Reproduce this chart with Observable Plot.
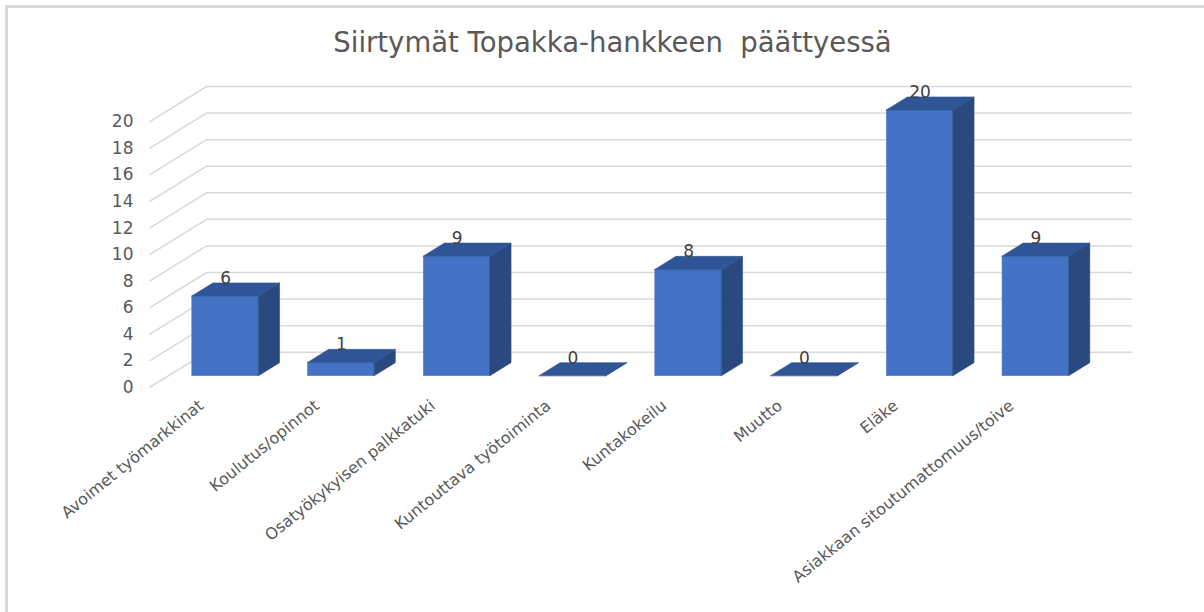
<!DOCTYPE html>
<html>
<head>
<meta charset="utf-8">
<script src="https://cdn.jsdelivr.net/npm/d3@7"></script>
<script src="https://cdn.jsdelivr.net/npm/@observablehq/plot@0.6"></script>
<style>
  html, body { margin: 0; padding: 0; background: #fff; }
  #wrap { position: relative; width: 1204px; height: 612px; overflow: hidden; }
  #frame { position: absolute; left: 5px; top: 5px; right: -10px; bottom: -10px;
           border-left: 3px solid #d9d9d9; border-top: 3px solid #d9d9d9; pointer-events: none; }
  svg { display: block; }
</style>
</head>
<body>
<div id="wrap"><div id="frame"></div></div>
<script>
const title = "Siirtymät Topakka-hankkeen  päättyessä";
const categories = [
  "Avoimet työmarkkinat",
  "Koulutus/opinnot",
  "Osatyökykyisen palkkatuki",
  "Kuntouttava työtoiminta",
  "Kuntakokeilu",
  "Muutto",
  "Eläke",
  "Asiakkaan sitoutumattomuus/toive"
];
const values = [6, 1, 9, 0, 8, 0, 20, 9];
const yTicks = [0, 2, 4, 6, 8, 10, 12, 14, 16, 18, 20];

// oblique 3D projection (in data units)
const DX = 57 / 115.75;   // depth shift along x (category units)
const DY = 35.3 / 13.285; // depth shift along y (value units)
const D0 = 0.32, D1 = 0.69; // bar front/back depth
const HW = 0.288;          // half bar width
const n = categories.length;

const bars = values.map((v, i) => ({i, v, name: categories[i]}));
const frontFace = bars.map(b => ({x1: b.i - HW + D0 * DX, x2: b.i + HW + D0 * DX, y1: D0 * DY, y2: b.v + D0 * DY}));
const sideFace = bars.flatMap(b => [D0, D1].map(d => ({z: b.i, x: b.i + HW + d * DX, y1: d * DY, y2: b.v + d * DY})));
const topFace = bars.flatMap(b => [D0, D1].map(d => ({z: b.i, y: b.v + d * DY, x1: b.i - HW + d * DX, x2: b.i + HW + d * DX})));

const font = "'DejaVu Sans', 'Open Sans', sans-serif";

const chart = Plot.plot({
  width: 1204,
  height: 612,
  marginLeft: 149,
  marginRight: 129,
  marginTop: 121.3,
  marginBottom: 225,
  style: {fontFamily: font, background: "transparent", overflow: "visible"},
  x: {type: "linear", domain: [-0.5, n - 0.5]},
  y: {type: "linear", domain: [0, 20]},
  marks: [
    Plot.text([title], {frameAnchor: "top", lineAnchor: "middle", dy: -79, fontSize: 27.5, fill: "#595959", fontFamily: font}),
    Plot.ruleY(yTicks, {y: t => t + DY, x1: -0.5 + DX, x2: n - 0.5 + DX, stroke: "#d9d9d9", strokeWidth: 1.5}),
    Plot.link(yTicks, {x1: -0.5, y1: t => t, x2: -0.5 + DX, y2: t => t + DY, stroke: "#d9d9d9", strokeWidth: 1.5}),
    Plot.rect(frontFace, {x1: "x1", x2: "x2", y1: "y1", y2: "y2", fill: "#4472c4", stroke: "#5a82cc", strokeWidth: 0.6}),
    Plot.areaY(sideFace, {x: "x", y1: "y1", y2: "y2", z: "z", fill: "#2a4a7f", stroke: "#2a4a7f", strokeWidth: 0.6}),
    Plot.areaX(topFace, {y: "y", x1: "x1", x2: "x2", z: "z", fill: "#2f5597", stroke: "#2f5597", strokeWidth: 0.6}),
    Plot.text(bars, {x: b => b.i + D0 * DX, y: b => b.v + D1 * DY, text: b => String(b.v), dy: -5,
      fontSize: 17, fill: "#404040", lineAnchor: "middle", fontFamily: font}),
    Plot.axisY(yTicks, {anchor: "left", tickSize: 0, tickPadding: 16, fontSize: 17, fill: "#595959", label: null}),
    Plot.axisX(d3.range(n), {anchor: "bottom", tickSize: 0, tickPadding: 16, tickRotate: -39, dx: -6,
      tickFormat: i => categories[i], fontSize: 16, fill: "#595959", label: null})
  ]
});
document.getElementById("wrap").prepend(chart);
</script>
</body>
</html>
